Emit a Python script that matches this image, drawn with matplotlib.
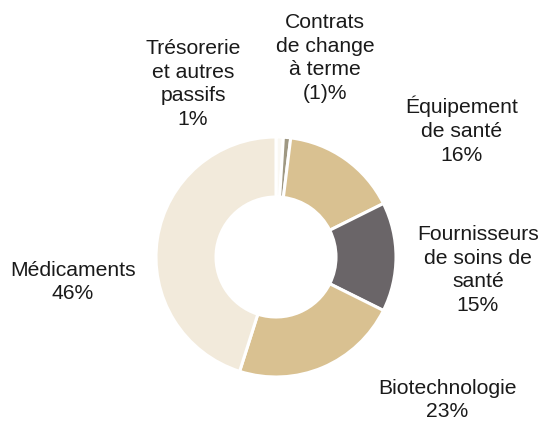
import matplotlib.pyplot as plt

plt.rcParams['font.family'] = ['Liberation Sans', 'DejaVu Sans']

# slices, clockwise from 12 o'clock (absolute values used for the geometry)
labels = ["Contrats\nde change\nà terme\n(1)%", "Trésorerie\net autres\npassifs\n1%",
          "Équipement\nde santé\n16%", "Fournisseurs\nde soins de\nsanté\n15%",
          "Biotechnologie\n23%", "Médicaments\n46%"]
values = [1, 1, 16, 15, 23, 46]
colors = ["#faf8f3", "#9f9883", "#d9c191", "#6a6568", "#d9c191", "#f2eadb"]

# label centres in pixels (x, y from top)
label_pos = [(325, 58), (193, 84), (462, 130), (478, 270), (447, 400), (73, 282)]

W, H = 542, 422
fig = plt.figure(figsize=(W / 100, H / 100), dpi=100)
ax = fig.add_axes([0, 0, 1, 1])

ax.pie(values, colors=colors, startangle=90, counterclock=False,
       center=(276, H - 257), radius=120,
       wedgeprops=dict(width=60, edgecolor="white", linewidth=2.2))

for lab, (x, y) in zip(labels, label_pos):
    ax.text(x, H - y, lab, ha="center", va="center", fontsize=15.2,
            color="#1a1a1a", linespacing=1.32)

ax.set_xlim(0, W)
ax.set_ylim(0, H)
ax.set_aspect("equal")
ax.axis("off")

fig.savefig("out.png", dpi=100)
